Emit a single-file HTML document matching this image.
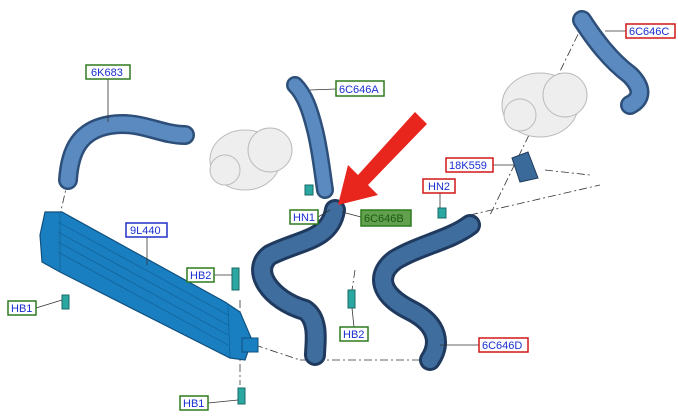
<!DOCTYPE html>
<html><head><style>
html,body{margin:0;padding:0;background:#fff;}
svg{display:block;font-family:"Liberation Sans",sans-serif;}
.lb{font-size:11px;fill:#1a2fd0;}
</style></head><body>
<svg width="678" height="419" viewBox="0 0 678 419" xmlns="http://www.w3.org/2000/svg">
<g fill="none" stroke="#333" stroke-width="0.8" stroke-dasharray="8,3,2,3">
<line x1="68" y1="180" x2="60" y2="215"/>
<line x1="585" y1="20" x2="490" y2="215"/>
<line x1="255" y1="345" x2="300" y2="360"/>
<line x1="300" y1="360" x2="430" y2="360"/>
<line x1="470" y1="215" x2="600" y2="185"/>
<line x1="545" y1="170" x2="590" y2="175"/>
<line x1="240" y1="300" x2="240" y2="385"/>
<line x1="355" y1="270" x2="352" y2="290"/>
</g>
<g fill="#eee" stroke="#bbb" stroke-width="1">
<ellipse cx="245" cy="160" rx="35" ry="30"/>
<circle cx="270" cy="150" r="22"/>
<circle cx="225" cy="170" r="15"/>
<ellipse cx="540" cy="105" rx="38" ry="32"/>
<circle cx="565" cy="95" r="22"/>
<circle cx="520" cy="115" r="16"/>
</g>
<g fill="none" stroke-linecap="round" stroke-linejoin="round">
<path d="M68 180 C70 150 80 130 110 125 C140 120 160 135 185 135" stroke="#2d4f7a" stroke-width="20"/>
<path d="M68 180 C70 150 80 130 110 125 C140 120 160 135 185 135" stroke="#5a8ac0" stroke-width="15"/>
<path d="M295 85 C305 95 310 110 315 130 C320 150 322 170 325 190" stroke="#2d4f7a" stroke-width="18"/>
<path d="M295 85 C305 95 310 110 315 130 C320 150 322 170 325 190" stroke="#5a8ac0" stroke-width="13"/>
<path d="M582 20 C595 40 610 60 630 75 C645 90 640 100 630 105" stroke="#2d4f7a" stroke-width="20"/>
<path d="M582 20 C595 40 610 60 630 75 C645 90 640 100 630 105" stroke="#5a8ac0" stroke-width="15"/>
<path d="M335 210 C330 240 300 240 270 255 C250 270 270 300 305 310 C320 320 315 345 315 355" stroke="#1f3a5e" stroke-width="22"/>
<path d="M335 210 C330 240 300 240 270 255 C250 270 270 300 305 310 C320 320 315 345 315 355" stroke="#3e6d9e" stroke-width="16"/>
<path d="M470 225 C450 240 420 245 395 260 C375 275 380 295 410 310 C440 325 440 345 430 360" stroke="#1f3a5e" stroke-width="22"/>
<path d="M470 225 C450 240 420 245 395 260 C375 275 380 295 410 310 C440 325 440 345 430 360" stroke="#3e6d9e" stroke-width="16"/>
</g>
<!-- intercooler -->
<polygon points="45,212 62,212 225,302 240,312 252,340 245,360 230,358 60,272 42,262 40,235" fill="#1a7fc0" stroke="#10507e" stroke-width="1.2"/>
<g stroke="#0f5f95" stroke-width="0.7">
<line x1="58" y1="222" x2="228" y2="315"/><line x1="58" y1="232" x2="228" y2="325"/>
<line x1="58" y1="242" x2="228" y2="335"/><line x1="58" y1="252" x2="228" y2="345"/>
<line x1="60" y1="213" x2="60" y2="272"/><line x1="228" y1="305" x2="230" y2="358"/>
</g>
<rect x="242" y="338" width="16" height="14" fill="#1a7fc0" stroke="#10507e"/>
<g fill="#2aa7a0" stroke="#1a6a66">
<rect x="62" y="295" width="7" height="14"/><rect x="232" y="268" width="7" height="22"/>
<rect x="348" y="290" width="7" height="18"/><rect x="238" y="388" width="7" height="16"/>
<rect x="438" y="208" width="8" height="10"/><rect x="305" y="185" width="8" height="10"/>
</g>
<polygon points="512,158 528,152 538,178 520,182" fill="#3a6a9a" stroke="#1f3a5e"/>
<g stroke="#333" stroke-width="0.8">
<line x1="108" y1="79" x2="108" y2="122"/><line x1="336" y1="89" x2="310" y2="90"/>
<line x1="626" y1="31" x2="605" y2="31"/><line x1="493" y1="165" x2="515" y2="165"/>
<line x1="440" y1="193" x2="440" y2="208"/><line x1="147" y1="237" x2="147" y2="265"/>
<line x1="318" y1="217" x2="330" y2="210"/><line x1="361" y1="217" x2="342" y2="212"/>
<line x1="214" y1="275" x2="232" y2="275"/><line x1="36" y1="308" x2="62" y2="300"/>
<line x1="354" y1="327" x2="352" y2="308"/><line x1="479" y1="345" x2="440" y2="345"/>
<line x1="208" y1="403" x2="238" y2="400"/>
</g>
<polygon points="415,112 427,124 368,185 378,195 338,205 348,165 358,175" fill="#e8261e"/>
<g stroke-width="1.5" fill="#fff">
<rect x="86" y="65" width="44" height="14" stroke="#2d7a1f"/>
<rect x="336" y="81" width="48" height="15" stroke="#2d7a1f"/>
<rect x="626" y="24" width="49" height="14" stroke="#d01818"/>
<rect x="446" y="158" width="47" height="14" stroke="#d01818"/>
<rect x="423" y="179" width="32" height="14" stroke="#d01818"/>
<rect x="126" y="223" width="41" height="14" stroke="#2030c8"/>
<rect x="290" y="210" width="28" height="14" stroke="#2d7a1f"/>
<rect x="361" y="210" width="50" height="16" stroke="#2d7a1f" fill="#62a04e"/>
<rect x="187" y="268" width="27" height="14" stroke="#2d7a1f"/>
<rect x="8" y="301" width="28" height="14" stroke="#2d7a1f"/>
<rect x="340" y="327" width="28" height="14" stroke="#2d7a1f"/>
<rect x="479" y="338" width="49" height="14" stroke="#d01818"/>
<rect x="180" y="396" width="28" height="14" stroke="#2d7a1f"/>
</g>
<g class="lb">
<text x="91" y="76">6K683</text><text x="339" y="93">6C646A</text>
<text x="629" y="35">6C646C</text><text x="449" y="169">18K559</text>
<text x="428" y="190">HN2</text><text x="130" y="234">9L440</text>
<text x="293" y="221">HN1</text><text x="364" y="222" fill="#1a5a12">6C646B</text>
<text x="190" y="279">HB2</text><text x="11" y="312">HB1</text>
<text x="343" y="338">HB2</text><text x="482" y="349">6C646D</text>
<text x="183" y="407">HB1</text>
</g>
</svg>
</body></html>
